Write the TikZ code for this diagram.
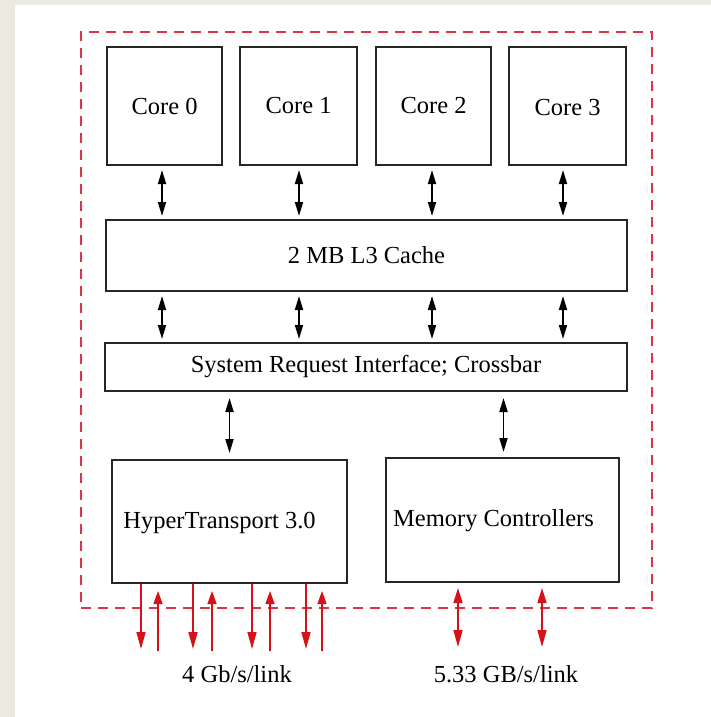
\documentclass[tikz,border=0pt]{standalone}
\usepackage{fontspec}
\setmainfont{Liberation Serif}
\usetikzlibrary{arrows.meta}
\definecolor{bggrey}{RGB}{236,234,224}
\definecolor{framered}{RGB}{222,52,72}
\definecolor{arrowred}{RGB}{214,18,24}
\tikzset{
  blockfont/.style={font=\fontsize{24.5}{29}\selectfont},
  blockbox/.style={draw=black!85, line width=2pt, rectangle, fill=white, inner sep=0pt, blockfont},
  chipframe/.style={draw=framered, line width=2.4pt, dash pattern=on 10pt off 7pt, rectangle, inner sep=0pt},
  biarrow/.style={line width=1.8pt, {Triangle[length=14pt,width=8pt]}-{Triangle[length=14pt,width=8pt]}, shorten <=4pt, shorten >=3pt},
  redbi/.style={draw=arrowred, line width=1.6pt, {Triangle[length=15pt,width=9pt]}-{Triangle[length=17pt,width=9pt]}, shorten <=5pt},
  reddown/.style={draw=arrowred, line width=1.6pt, -{Triangle[length=17pt,width=9pt]}},
  redup/.style={draw=arrowred, line width=1.3pt, -{Triangle[length=13pt,width=9pt]}, shorten >=7pt},
  lbl/.style={blockfont, inner sep=0pt, anchor=base}
}
\begin{document}
\begin{tikzpicture}[x=1pt,y=-1pt]
\fill[white] (0,0) rectangle (711,717);
\fill[bggrey] (0,0) rectangle (15,717);
\fill[bggrey] (0,0) rectangle (711,5);
\useasboundingbox (0,0) rectangle (711,717);

% chip frame
\node[chipframe, minimum width=571pt, minimum height=576pt] (chip) at (366.5,320) {};

% cores
\node[blockbox, minimum width=115pt, minimum height=118pt] (core0) at (164.5,106) {Core 0};
\node[blockbox, minimum width=117pt, minimum height=118pt] (core1) at (298.5,106) {Core 1};
\node[blockbox, minimum width=115pt, minimum height=118pt] (core2) at (433.5,106) {Core 2};
\node[blockbox, minimum width=117pt, minimum height=118pt,
  label={[blockfont, inner sep=0pt, yshift=-2pt]center:Core 3}] (core3) at (567.5,106) {};

% cache and crossbar
\node[blockbox, minimum width=521pt, minimum height=71pt] (l3) at (366.5,255.5) {2 MB L3 Cache};
\node[blockbox, minimum width=522pt, minimum height=48pt] (sri) at (366,367) {System Request Interface; Crossbar};

% HT and MC
\node[blockbox, minimum width=235pt, minimum height=123pt,
  label={[blockfont, inner sep=0pt, xshift=-10pt, yshift=-1pt]center:HyperTransport 3.0}] (ht) at (229.5,521.5) {};
\node[blockbox, minimum width=233pt, minimum height=124pt,
  label={[blockfont, inner sep=0pt, xshift=-9pt, yshift=-1pt]center:Memory Controllers}] (mc) at (502.5,520) {};

% core <-> L3
\draw[biarrow] ([xshift=-2.5pt]core0.south) -- ([xshift=-2.5pt]core0.south |- l3.north);
\draw[biarrow] ([xshift=0.5pt]core1.south) -- ([xshift=0.5pt]core1.south |- l3.north);
\draw[biarrow] ([xshift=-1.5pt]core2.south) -- ([xshift=-1.5pt]core2.south |- l3.north);
\draw[biarrow] ([xshift=-4.5pt]core3.south) -- ([xshift=-4.5pt]core3.south |- l3.north);

% L3 <-> SRI
\draw[biarrow] ([xshift=-2.5pt]core0.south |- l3.south) -- ([xshift=-2.5pt]core0.south |- sri.north);
\draw[biarrow] ([xshift=0.5pt]core1.south |- l3.south) -- ([xshift=0.5pt]core1.south |- sri.north);
\draw[biarrow] ([xshift=-1.5pt]core2.south |- l3.south) -- ([xshift=-1.5pt]core2.south |- sri.north);
\draw[biarrow] ([xshift=-4.5pt]core3.south |- l3.south) -- ([xshift=-4.5pt]core3.south |- sri.north);

% SRI <-> HT / MC
\draw[biarrow, shorten <=6pt, shorten >=6pt] (ht.north |- sri.south) -- (ht.north);
\draw[biarrow, shorten <=6pt, shorten >=5pt] ([xshift=1pt]mc.north |- sri.south) -- ([xshift=1pt]mc.north);

% HT links
\foreach \dx/\n in {-88.5/a,-36.5/b,22.5/c,76.5/d}{
  \coordinate (hd\n) at ([xshift=\dx pt, yshift=-65pt]ht.south);
  \draw[reddown] ([xshift=\dx pt]ht.south) -- (hd\n);
}
\foreach \dx/\n in {-71.5/a,-17.5/b,40.5/c,92.5/d}{
  \coordinate (hu\n) at ([xshift=\dx pt, yshift=-67pt]ht.south);
  \draw[redup] (hu\n) -- ([xshift=\dx pt]ht.south);
}

% MC links
\coordinate (ma) at ([xshift=-44.5pt, yshift=-64pt]mc.south);
\coordinate (mb) at ([xshift=39.5pt, yshift=-64pt]mc.south);
\draw[redbi] ([xshift=-44.5pt]mc.south) -- (ma);
\draw[redbi] ([xshift=39.5pt]mc.south) -- (mb);

% labels
\node[lbl] (htlbl) at (237,682) {4 Gb/s/link};
\node[lbl] (mclbl) at (506,682) {5.33 GB/s/link};
\end{tikzpicture}
\end{document}
